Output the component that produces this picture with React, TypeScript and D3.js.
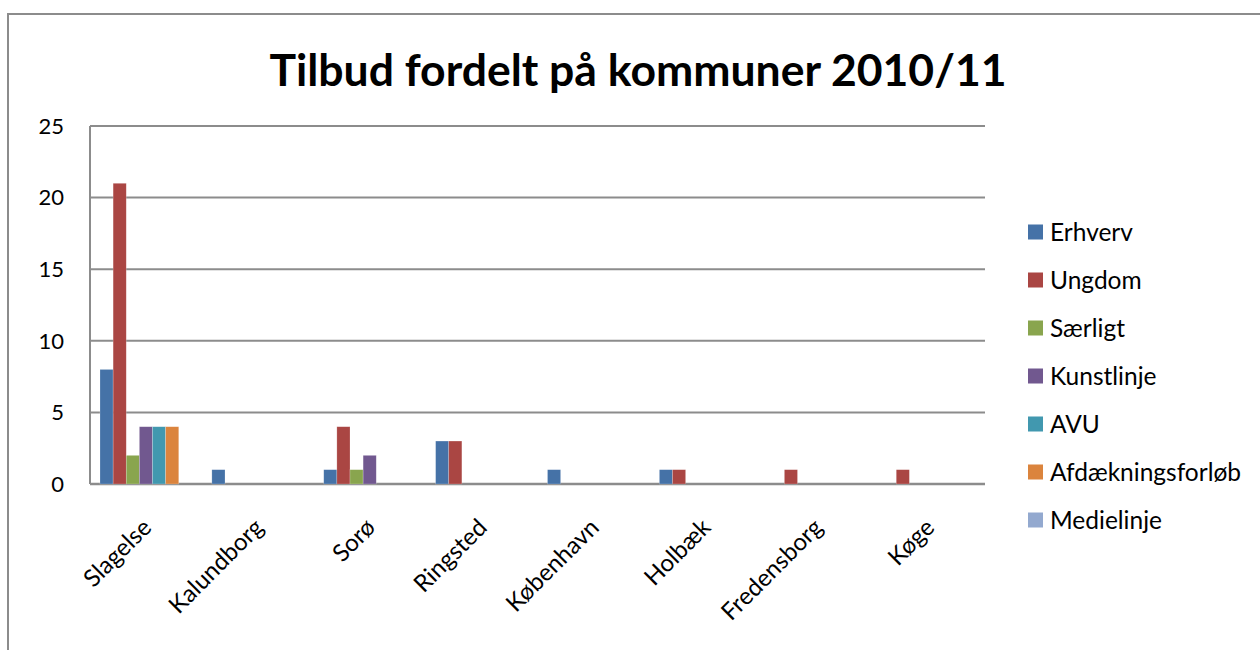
import React from "react";
import * as d3 from "d3";

const categories = ["Slagelse", "Kalundborg", "Sorø", "Ringsted", "København", "Holbæk", "Fredensborg", "Køge"];
const seriesNames = ["Erhverv", "Ungdom", "Særligt", "Kunstlinje", "AVU", "Afdækningsforløb", "Medielinje"];
const seriesColors = ["#4572A7", "#AA4643", "#89A54E", "#71588F", "#4198AF", "#DB843D", "#93A9CF"];
const erhverv = [8, 1, 1, 3, 1, 1, 0, 0];
const ungdom = [21, 0, 4, 3, 0, 1, 1, 1];
const saerligt = [2, 0, 1, 0, 0, 0, 0, 0];
const kunstlinje = [4, 0, 2, 0, 0, 0, 0, 0];
const avu = [4, 0, 0, 0, 0, 0, 0, 0];
const afdaekning = [4, 0, 0, 0, 0, 0, 0, 0];
const medielinje = [0, 0, 0, 0, 0, 0, 0, 0];
const yTicks = [0, 5, 10, 15, 20, 25];
const title = "Tilbud fordelt på kommuner 2010/11";

const seriesValues = [erhverv, ungdom, saerligt, kunstlinje, avu, afdaekning, medielinje];

export default function App() {
  const W = 1260, H = 650;
  const left = 90, right = 985, top = 126, bottom = 484;
  const font = "Lato, 'Open Sans', sans-serif";

  const x = d3.scaleBand<string>().domain(categories).range([left, right]).paddingInner(0).paddingOuter(0);
  const groupPad = 10;
  const xs = d3.scaleBand<string>().domain(seriesNames).range([groupPad, x.bandwidth() - groupPad]).padding(0);
  const y = d3.scaleLinear().domain([0, 25]).range([bottom, top]);

  return (
    <svg width={W} height={H} style={{ position: "absolute", left: 0, top: 0, display: "block" }}>
      <rect x={0} y={0} width={W} height={H} fill="#fff" />
      <rect x={8} y={14} width={W + 20} height={H + 20} fill="#fff" stroke="#8c8c8c" strokeWidth={2} />
      <text x={638} y={86} textAnchor="middle" fontFamily={font} fontWeight="bold" fontSize={44.5} fill="#000">
        {title}
      </text>
      {yTicks.map((t) => (
        <g key={t}>
          <line x1={left} x2={right} y1={y(t)} y2={y(t)} stroke="#8c8c8c" strokeWidth={t === 0 ? 2.5 : 2} />
          <text x={left - 26} y={y(t)} dy="0.35em" textAnchor="end" fontFamily={font} fontSize={22} fill="#000">
            {t}
          </text>
        </g>
      ))}
      <line x1={left} x2={left} y1={top} y2={bottom} stroke="#8c8c8c" strokeWidth={2} />
      {seriesNames.map((s, si) => (
        <g key={s}>
          {categories.map((c, ci) => {
            const v = seriesValues[si][ci];
            if (!v) return null;
            const bx = (x(c) as number) + (xs(s) as number);
            return (
              <rect key={c} x={bx} y={y(v)} width={xs.bandwidth()} height={y(0) - y(v)} fill={seriesColors[si]} stroke="rgba(255,255,255,0.35)" strokeWidth={0.6} />
            );
          })}
        </g>
      ))}
      {categories.map((c) => {
        const cx = (x(c) as number) + x.bandwidth() / 2 + 1;
        const cy = bottom + 39;
        return (
          <text key={"l" + c} x={cx} y={cy} transform={`rotate(-45 ${cx} ${cy})`} textAnchor="end" dy="0.35em" fontFamily={font} fontSize={24} fill="#000">
            {c}
          </text>
        );
      })}
      {seriesNames.map((s, i) => {
        const ly = 232 + i * 48;
        return (
          <g key={"lg" + s}>
            <rect x={1028} y={ly - 7.5} width={15} height={15} fill={seriesColors[i]} />
            <text x={1050} y={ly} dy="0.35em" fontFamily={font} fontSize={24.5} fill="#000">
              {s}
            </text>
          </g>
        );
      })}
    </svg>
  );
}
